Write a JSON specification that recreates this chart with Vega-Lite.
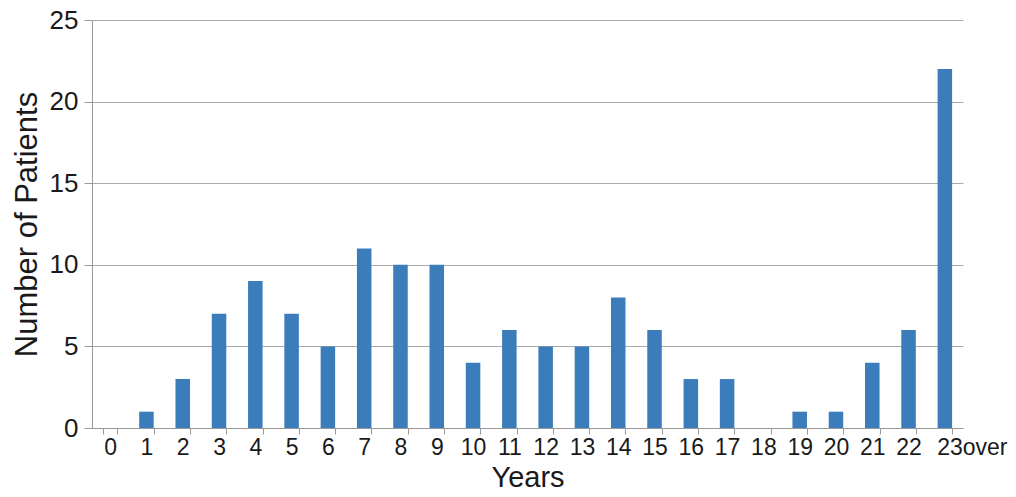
{
  "$schema": "https://vega.github.io/schema/vega-lite/v6.json",
  "width": 871,
  "height": 408,
  "autosize": {"type": "none"},
  "padding": {"left": 92, "top": 20, "right": 53, "bottom": 69},
  "background": "white",
  "config": {"view": {"stroke": null}, "font": "Liberation Sans"},
  "data": {"values": [
    {"year": "0", "patients": 0},
    {"year": "1", "patients": 1},
    {"year": "2", "patients": 3},
    {"year": "3", "patients": 7},
    {"year": "4", "patients": 9},
    {"year": "5", "patients": 7},
    {"year": "6", "patients": 5},
    {"year": "7", "patients": 11},
    {"year": "8", "patients": 10},
    {"year": "9", "patients": 10},
    {"year": "10", "patients": 4},
    {"year": "11", "patients": 6},
    {"year": "12", "patients": 5},
    {"year": "13", "patients": 5},
    {"year": "14", "patients": 8},
    {"year": "15", "patients": 6},
    {"year": "16", "patients": 3},
    {"year": "17", "patients": 3},
    {"year": "18", "patients": 0},
    {"year": "19", "patients": 1},
    {"year": "20", "patients": 1},
    {"year": "21", "patients": 4},
    {"year": "22", "patients": 6},
    {"year": "23over", "patients": 22}
  ]},
  "mark": {"type": "bar", "color": "#3b7dbb"},
  "encoding": {
    "x": {
      "field": "year", "type": "ordinal", "sort": null,
      "scale": {"paddingInner": 0.6, "paddingOuter": 0.3},
      "axis": {
        "title": "Years", "titleFontSize": 29, "titleFontWeight": "normal", "titleColor": "#1a1a1a", "titlePadding": 4,
        "labelAngle": 0, "labelFontSize": 23, "labelColor": "#1a1a1a", "labelPadding": 2,
        "labelOffset": {"condition": {"test": "datum.value == '23over'", "value": 27}, "value": 0},
        "tickBand": "extent", "tickColor": "#999", "tickSize": 6,
        "domainColor": "#999", "grid": false
      }
    },
    "y": {
      "field": "patients", "type": "quantitative",
      "scale": {"domain": [0, 25], "nice": false},
      "axis": {
        "title": "Number of Patients", "titleFontSize": 31, "titleFontWeight": "normal", "titleColor": "#1a1a1a", "titlePadding": 6,
        "values": [0, 5, 10, 15, 20, 25],
        "labelFontSize": 26, "labelColor": "#1a1a1a", "labelPadding": 6,
        "tickColor": "#999", "tickSize": 8, "domainColor": "#999",
        "grid": true, "gridColor": "#aaa"
      }
    }
  }
}
